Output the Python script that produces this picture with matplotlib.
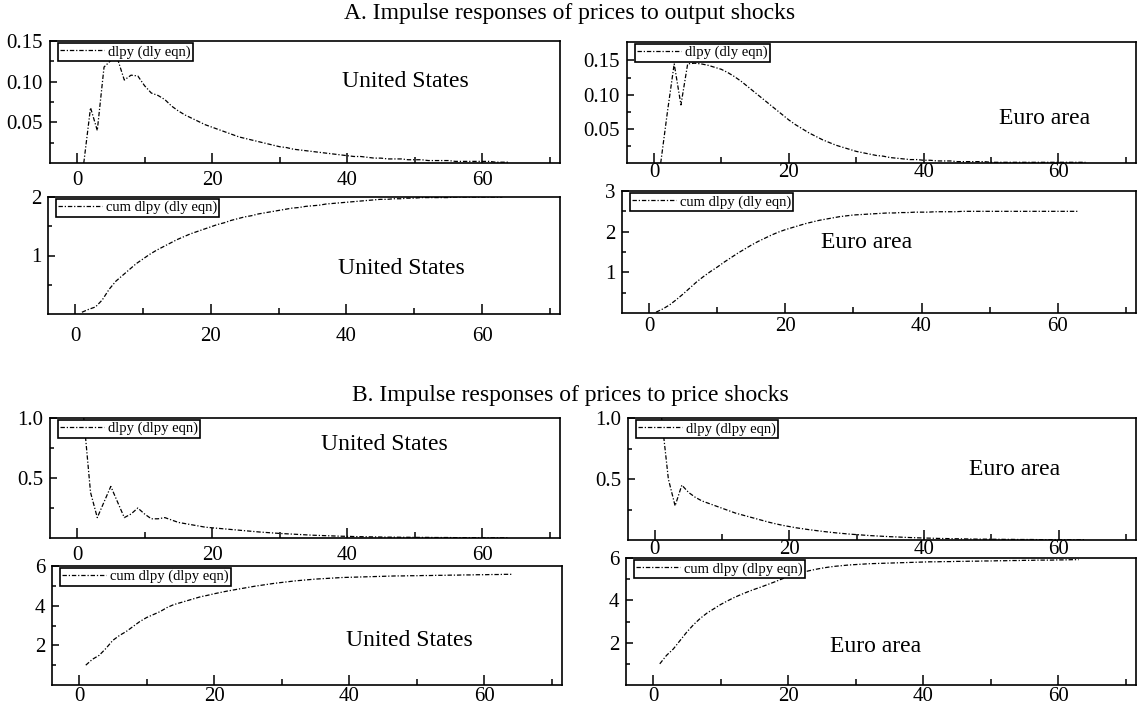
import matplotlib
matplotlib.use("Agg")
import matplotlib.pyplot as plt
from matplotlib.ticker import FixedLocator, FormatStrFormatter

plt.rcParams['font.family'] = ['Liberation Serif', 'DejaVu Serif']

#Values (horizon in periods starts at 1)
us_out = [0.000, 0.068, 0.040, 0.118, 0.126, 0.128, 0.102, 0.108, 0.107, 0.095,
          0.086, 0.083, 0.078, 0.070, 0.064, 0.059, 0.055, 0.051, 0.047, 0.044,
          0.041, 0.038, 0.035, 0.032, 0.030, 0.028, 0.026, 0.024, 0.022, 0.020,
          0.019, 0.017, 0.016, 0.015, 0.014, 0.013, 0.012, 0.011, 0.010, 0.009,
          0.008, 0.008, 0.007, 0.006, 0.006, 0.005, 0.005, 0.005, 0.004, 0.004,
          0.004, 0.003, 0.003, 0.003, 0.003, 0.002, 0.002, 0.002, 0.002, 0.002,
          0.002, 0.001, 0.001, 0.001]
eu_out = [0.000, 0.075, 0.145, 0.085, 0.145, 0.146, 0.145, 0.143, 0.140, 0.137,
          0.132, 0.126, 0.119, 0.111, 0.103, 0.095, 0.087, 0.079, 0.071, 0.063,
          0.056, 0.050, 0.044, 0.039, 0.034, 0.030, 0.026, 0.023, 0.020, 0.017,
          0.015, 0.013, 0.011, 0.010, 0.008, 0.007, 0.006, 0.005, 0.005, 0.004,
          0.004, 0.003, 0.003, 0.003, 0.002, 0.002, 0.002, 0.002, 0.002, 0.001,
          0.001, 0.001, 0.001, 0.001, 0.001, 0.001, 0.001, 0.001, 0.001, 0.001,
          0.001, 0.001, 0.001, 0.001]
us_out_cum = [0.03, 0.08, 0.12, 0.24, 0.42, 0.56, 0.66, 0.76, 0.86, 0.94,
              1.02, 1.09, 1.15, 1.21, 1.27, 1.32, 1.37, 1.41, 1.45, 1.49,
              1.53, 1.56, 1.60, 1.63, 1.66, 1.68, 1.71, 1.73, 1.75, 1.77,
              1.79, 1.81, 1.82, 1.84, 1.85, 1.86, 1.88, 1.89, 1.90, 1.91,
              1.92, 1.93, 1.94, 1.95, 1.96, 1.96, 1.97, 1.97, 1.98, 1.98,
              1.99, 1.99, 1.99, 1.99, 1.99, 2.00, 2.00, 2.00, 2.00, 2.00,
              2.00, 2.00, 2.00]
eu_out_cum = [0.02, 0.10, 0.20, 0.33, 0.47, 0.62, 0.77, 0.90, 1.02, 1.13,
              1.25, 1.36, 1.47, 1.57, 1.67, 1.76, 1.84, 1.92, 1.99, 2.05,
              2.10, 2.15, 2.20, 2.24, 2.28, 2.31, 2.34, 2.37, 2.39, 2.41,
              2.42, 2.43, 2.44, 2.45, 2.46, 2.46, 2.47, 2.47, 2.48, 2.48,
              2.48, 2.49, 2.49, 2.49, 2.49, 2.50, 2.50, 2.50, 2.50, 2.50,
              2.50, 2.50, 2.50, 2.50, 2.50, 2.50, 2.50, 2.50, 2.50, 2.50,
              2.50, 2.50, 2.50]
us_pr = [1.00, 0.38, 0.17, 0.30, 0.43, 0.30, 0.17, 0.20, 0.25, 0.20,
         0.16, 0.16, 0.17, 0.15, 0.13, 0.12, 0.11, 0.10, 0.090, 0.085,
         0.080, 0.075, 0.070, 0.065, 0.060, 0.055, 0.050, 0.046, 0.042, 0.038,
         0.035, 0.032, 0.029, 0.026, 0.023, 0.021, 0.019, 0.017, 0.015, 0.014,
         0.012, 0.011, 0.010, 0.009, 0.008, 0.007, 0.007, 0.006, 0.006, 0.005,
         0.005, 0.005, 0.004, 0.004, 0.004, 0.003, 0.003, 0.003, 0.003, 0.002,
         0.002, 0.002, 0.002, 0.002]
eu_pr = [1.00, 0.50, 0.28, 0.45, 0.39, 0.35, 0.32, 0.30, 0.28, 0.26,
         0.24, 0.22, 0.205, 0.19, 0.175, 0.16, 0.145, 0.132, 0.12, 0.11,
         0.10, 0.092, 0.084, 0.077, 0.070, 0.064, 0.058, 0.053, 0.048, 0.044,
         0.040, 0.036, 0.033, 0.030, 0.027, 0.025, 0.022, 0.020, 0.018, 0.016,
         0.015, 0.013, 0.012, 0.011, 0.010, 0.009, 0.008, 0.007, 0.007, 0.006,
         0.006, 0.005, 0.005, 0.004, 0.004, 0.004, 0.003, 0.003, 0.003, 0.003,
         0.002, 0.002, 0.002, 0.002]
us_pr_cum = [1.00, 1.30, 1.50, 1.85, 2.25, 2.50, 2.70, 2.95, 3.20, 3.40,
             3.55, 3.70, 3.90, 4.05, 4.15, 4.25, 4.35, 4.45, 4.52, 4.60,
             4.67, 4.74, 4.80, 4.86, 4.92, 4.98, 5.03, 5.08, 5.13, 5.17,
             5.21, 5.25, 5.28, 5.31, 5.34, 5.36, 5.38, 5.40, 5.42, 5.43,
             5.44, 5.45, 5.46, 5.47, 5.48, 5.49, 5.50, 5.50, 5.51, 5.51,
             5.52, 5.52, 5.53, 5.53, 5.54, 5.54, 5.55, 5.55, 5.56, 5.56,
             5.57, 5.57, 5.58, 5.58]
eu_pr_cum = [1.00, 1.40, 1.70, 2.10, 2.50, 2.85, 3.15, 3.40, 3.60, 3.80,
             3.97, 4.13, 4.27, 4.40, 4.52, 4.63, 4.75, 4.87, 5.00, 5.12,
             5.22, 5.31, 5.39, 5.46, 5.52, 5.57, 5.61, 5.64, 5.67, 5.69,
             5.71, 5.73, 5.74, 5.75, 5.76, 5.77, 5.78, 5.79, 5.80, 5.81,
             5.82, 5.82, 5.83, 5.83, 5.84, 5.84, 5.85, 5.85, 5.86, 5.86,
             5.87, 5.87, 5.88, 5.88, 5.89, 5.89, 5.90, 5.90, 5.90, 5.91,
             5.91, 5.92, 5.92]

legend_labels = ["dlpy (dly eqn)", "cum dlpy (dly eqn)", "dlpy (dlpy eqn)", "cum dlpy (dlpy eqn)"]
title_a = "A. Impulse responses of prices to output shocks"
title_b = "B. Impulse responses of prices to price shocks"

W, H = 1139, 711
fig = plt.figure(figsize=(W / 100, H / 100), dpi=100)

#helper: axes box given in pixels (left, top, right, bottom)
def box(l, t, r, b):
    return fig.add_axes([l / W, 1 - b / H, (r - l) / W, (b - t) / H])

#one small panel
def panel(ax, y, label, ylim, major, minor, fmt, text, tx, ty, xpad):
    x = list(range(1, len(y) + 1))
    ax.plot(x, y, color='black', linewidth=0.9, linestyle=(0, (3.5, 1.5, 1, 1.5)), label=label)
    ax.set_xlim(-4, 71.5)
    ax.set_ylim(*ylim)
    ax.xaxis.set_major_locator(FixedLocator([0, 20, 40, 60]))
    ax.xaxis.set_minor_locator(FixedLocator([10, 30, 50, 70]))
    ax.yaxis.set_major_locator(FixedLocator(major))
    ax.yaxis.set_minor_locator(FixedLocator(minor))
    ax.yaxis.set_major_formatter(FormatStrFormatter(fmt))
    ax.tick_params(which='both', direction='in', top=False, right=False, width=1.1, labelsize=15)
    ax.tick_params(axis='x', which='major', length=7, pad=xpad)
    ax.tick_params(axis='x', which='minor', length=4)
    ax.tick_params(axis='y', which='major', length=5, pad=5)
    ax.tick_params(axis='y', which='minor', length=3)
    for s in ax.spines.values():
        s.set_linewidth(1.2)
    leg = ax.legend(loc='upper left', bbox_to_anchor=(0.015, 0.985), borderaxespad=0,
                    fontsize=10.5, handlelength=3.0, handletextpad=0.3, borderpad=0.15,
                    fancybox=False, framealpha=1, edgecolor='black')
    leg.get_frame().set_linewidth(1.2)
    ax.text(tx, ty, text, transform=ax.transAxes, ha='center', va='center', fontsize=17)

#row 1: output shocks, dlpy
ax = box(50, 41, 560, 163)
panel(ax, us_out, legend_labels[0], (0, 0.15), [0.05, 0.10, 0.15], [0.025, 0.075, 0.125], '%.2f',
      "United States", 0.696, 0.667, 6)
ax = box(627, 42, 1136, 163)
panel(ax, eu_out, legend_labels[0], (0, 0.177), [0.05, 0.10, 0.15], [0.025, 0.075, 0.125], '%.2f',
      "Euro area", 0.82, 0.37, 0.3)

#row 2: output shocks, cumulated
ax = box(48, 197, 560, 314)
panel(ax, us_out_cum, legend_labels[1], (0, 2), [1, 2], [0.5, 1.5], '%d',
      "United States", 0.69, 0.39, 9.5)
ax = box(622, 191, 1136, 313)
panel(ax, eu_out_cum, legend_labels[1], (0, 3), [1, 2, 3], [0.5, 1.5, 2.5], '%d',
      "Euro area", 0.475, 0.577, 3)

#row 3: price shocks, dlpy
ax = box(50, 418, 560, 538)
panel(ax, us_pr, legend_labels[2], (0, 1), [0.5, 1.0], [0.25, 0.75], '%.1f',
      "United States", 0.655, 0.78, 5.5)
ax = box(628, 418, 1136, 540)
panel(ax, eu_pr, legend_labels[2], (0, 1), [0.5, 1.0], [0.25, 0.75], '%.1f',
      "Euro area", 0.76, 0.58, 0.3)

#row 4: price shocks, cumulated
ax = box(52, 566, 562, 685)
panel(ax, us_pr_cum, legend_labels[3], (0, 6), [2, 4, 6], [1, 3, 5], '%d',
      "United States", 0.70, 0.375, 1.5)
ax = box(626, 558, 1136, 685)
panel(ax, eu_pr_cum, legend_labels[3], (0, 6), [2, 4, 6], [1, 3, 5], '%d',
      "Euro area", 0.49, 0.305, 1.5)

#section titles
fig.text(570 / W, 1 - 13 / H, title_a, ha='center', va='center', fontsize=17)
fig.text(570 / W, 1 - 396 / H, title_b, ha='center', va='center', fontsize=17)

plt.savefig('out.png', dpi=100)
